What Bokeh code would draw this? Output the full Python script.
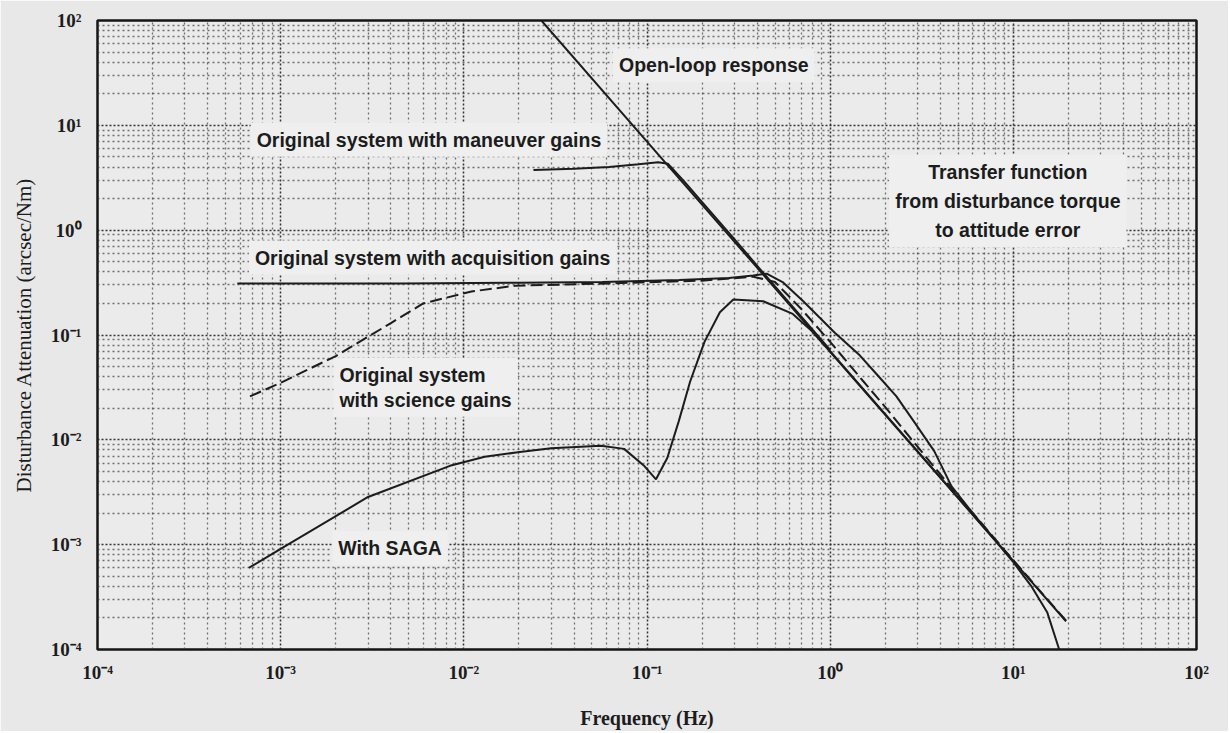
from bokeh.plotting import figure
from bokeh.models import FixedTicker, CustomJSTickFormatter, Label
from bokeh.embed import file_html
from bokeh.resources import INLINE

# ---------------- data ----------------
decade_ticks = [1e-4, 1e-3, 1e-2, 1e-1, 1e0, 1e1, 1e2]

# Open-loop response
ol_f = [0.0265, 0.1, 1.0, 10.0, 19.4]
ol_y = [100.0, 7.0, 0.070, 7.0e-4, 1.86e-4]

# Original system with maneuver gains
man_f = [0.024, 0.04, 0.062, 0.09, 0.115, 0.13, 0.16, 0.2, 0.3, 0.5, 1.0]
man_y = [3.75, 3.85, 4.0, 4.25, 4.45, 4.3, 2.9, 1.85, 0.82, 0.29, 0.072]

# Original system with acquisition gains
acq_f = [5.8e-4, 1e-3, 4.6e-3, 0.02, 0.057, 0.15, 0.28, 0.38, 0.45, 0.55, 0.713,
         1.06, 1.45, 1.8, 2.3, 2.9, 3.7, 4.6, 6.0, 8.0]
acq_y = [0.31, 0.31, 0.31, 0.315, 0.32, 0.335, 0.35, 0.37, 0.385, 0.32, 0.21,
         0.105, 0.064, 0.042, 0.026, 0.0145, 0.0078, 3.6e-3, 2.0e-3, 1.1e-3]

# Original system with science gains (dashed)
sci_f = [6.8e-4, 1.0e-3, 2.0e-3, 4.0e-3, 6.0e-3, 0.011, 0.019, 0.06, 0.2, 0.38,
         0.5, 0.7, 1.0, 1.5, 2.0, 3.0, 5.0, 10.0, 19.4]
sci_y = [0.026, 0.035, 0.063, 0.13, 0.2, 0.26, 0.295, 0.31, 0.33, 0.36,
         0.32, 0.175, 0.086, 0.037, 0.0205, 8.6e-3, 2.9e-3, 7.1e-4, 1.88e-4]

# With SAGA
saga_f = [6.7e-4, 1.0e-3, 3.0e-3, 8.4e-3, 0.013, 0.0197, 0.030, 0.056, 0.075,
          0.096, 0.112, 0.129, 0.149, 0.172, 0.206, 0.25, 0.296, 0.431, 0.625,
          0.794, 1.0, 2.0, 5.0, 8.0, 10.0, 12.5, 15.3, 17.8]
saga_y = [6.0e-4, 9.1e-4, 2.85e-3, 5.65e-3, 6.9e-3, 7.6e-3, 8.3e-3, 8.8e-3, 8.2e-3,
          5.7e-3, 4.2e-3, 6.7e-3, 0.015, 0.036, 0.086, 0.165, 0.218, 0.21, 0.159,
          0.109, 0.069, 0.0173, 2.78e-3, 1.08e-3, 6.8e-4, 4.05e-4, 2.27e-4, 1.0e-4]

# ---------------- figure ----------------
BG = "#e8e8e8"
INK = "#1c1c1c"

p = figure(width=1228, height=731, x_axis_type="log", y_axis_type="log",
           x_range=(1e-4, 1e2), y_range=(1e-4, 1e2),
           output_backend="svg", toolbar_location=None,
           background_fill_color="#ebebeb", border_fill_color=BG,
           min_border_left=97, min_border_right=32, min_border_top=20,
           min_border_bottom=81)

minor = []
for d in decade_ticks[:-1]:
    for m in range(2, 10):
        minor.append(d * m)

xt = FixedTicker(ticks=decade_ticks, minor_ticks=minor)
yt = FixedTicker(ticks=decade_ticks, minor_ticks=minor)
p.xaxis.ticker = xt
p.yaxis.ticker = yt
p.xgrid.ticker = xt
p.ygrid.ticker = yt

fmt_code = """
const sup = {"-":"\u207b","0":"\u2070","1":"\u00b9","2":"\u00b2","3":"\u00b3","4":"\u2074"};
const e = Math.round(Math.log10(tick));
return "10" + String(e).split("").map(c => sup[c]).join("");
"""
p.xaxis.formatter = CustomJSTickFormatter(code=fmt_code)
p.yaxis.formatter = CustomJSTickFormatter(code=fmt_code)

for g in (p.xgrid, p.ygrid):
    g.grid_line_color = "#2a2a2a"
    g.grid_line_dash = "2 2"
    g.grid_line_width = 1.5
    g.grid_line_alpha = 0.95
    g.minor_grid_line_color = "#3a3a3a"
    g.minor_grid_line_dash = "2 3"
    g.minor_grid_line_width = 1.3
    g.minor_grid_line_alpha = 0.7

p.outline_line_color = "#151515"
p.outline_line_width = 2.5

for ax in (p.xaxis, p.yaxis):
    ax.axis_line_color = None
    ax.major_tick_line_color = None
    ax.minor_tick_line_color = None
    ax.major_label_text_font = "Liberation Serif"
    ax.major_label_text_font_style = "bold"
    ax.major_label_text_font_size = "19px"
    ax.major_label_text_color = INK
    ax.axis_label_text_font = "Liberation Serif"
    ax.axis_label_text_color = INK

p.xaxis.axis_label_text_font_style = "bold"
p.xaxis.axis_label_text_font_size = "20px"
p.yaxis.axis_label_text_font_style = "normal"
p.yaxis.axis_label_text_font_size = "21px"

p.xaxis.axis_label = "Frequency (Hz)"
p.yaxis.axis_label = "Disturbance Attenuation (arcsec/Nm)"
p.xaxis.major_label_standoff = 6
p.yaxis.major_label_standoff = 10
p.xaxis.axis_label_standoff = 21
p.yaxis.axis_label_standoff = 12

# ---------------- curves ----------------
p.line(ol_f, ol_y, line_color=INK, line_width=2)
p.line(man_f, man_y, line_color=INK, line_width=2)
p.line(acq_f, acq_y, line_color=INK, line_width=2)
p.line(sci_f, sci_y, line_color=INK, line_width=2, line_dash="12 5")
p.line(saga_f, saga_y, line_color=INK, line_width=2)

# ---------------- annotations ----------------
def add_label(x, y, text, align="left", lh=1.2):
    lab = Label(x=x, y=y, text=text, text_align=align, text_baseline="middle",
                text_font="Liberation Sans", text_font_size="19.5px",
                text_font_style="bold", text_line_height=lh,
                text_color=INK, background_fill_color="#efefef",
                padding=6)
    p.add_layout(lab)

add_label(0.0652, 37.5, "Open-loop response")
add_label(6.86e-4, 7.28, "Original system with maneuver gains")
add_label(6.71e-4, 0.548, "Original system with acquisition gains")
add_label(1.94e-3, 0.0317, "Original system\nwith science gains", lh=1.13)
add_label(1.91e-3, 9.3e-4, "With SAGA")
add_label(9.33, 1.9, "Transfer function\nfrom disturbance torque\nto attitude error",
          "center", lh=1.33)

html = file_html(p, INLINE)
with open("out.html", "w") as f:
    f.write(html)
